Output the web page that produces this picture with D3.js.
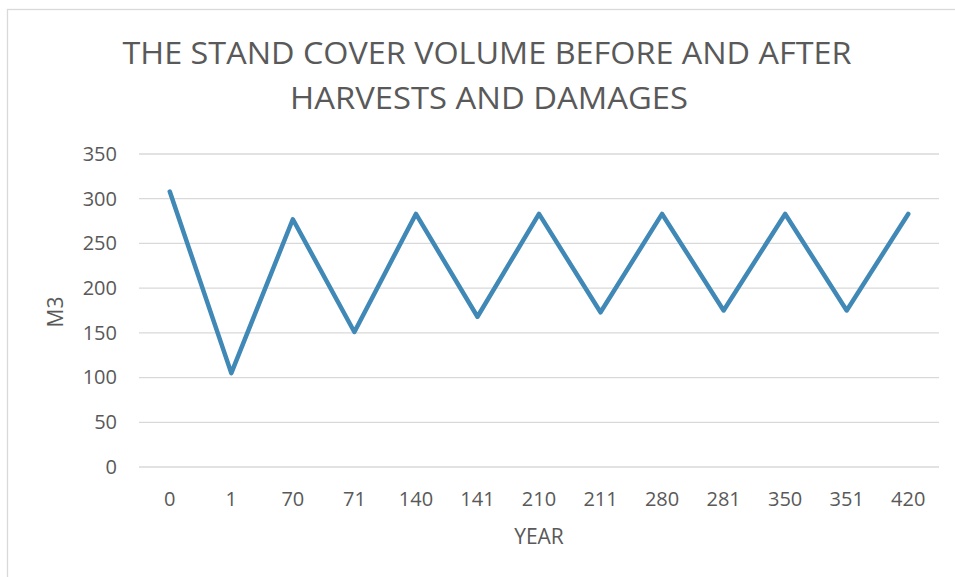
<!DOCTYPE html>
<html lang="en">
<head>
<meta charset="UTF-8"/>
<title>Stand cover volume</title>
<script src="https://d3js.org/d3.v7.min.js"></script>
<style>
    body { margin: 0; background: #fff; }
    text { font-family: "Open Sans", sans-serif; fill: #595959; }
    .grid line { stroke: #d9d9d9; stroke-width: 1.3; }
    .line { fill: none; stroke: #4088b6; stroke-width: 4.5; stroke-linejoin: round; stroke-linecap: round; }
</style>
</head>
<body>
<div id="chart"></div>
<script>
    // chart data
    var years = ["0", "1", "70", "71", "140", "141", "210", "211", "280", "281", "350", "351", "420"];
    var volume = [308, 105, 277, 151, 283, 168, 283, 173, 283, 175, 283, 175, 283];
    var yTicks = [0, 50, 100, 150, 200, 250, 300, 350];
    var titleLines = ["THE STAND COVER VOLUME BEFORE AND AFTER", "HARVESTS AND DAMAGES"];

    var w = 955, h = 577;
    var plotLeft = 139, plotRight = 939, plotTop = 154, plotBottom = 467;

    var svg = d3.select("#chart").append("svg")
        .attr("width", w)
        .attr("height", h);

    // chart border
    svg.append("rect")
        .attr("x", 7.5).attr("y", 9.5)
        .attr("width", w + 10).attr("height", h + 10)
        .attr("fill", "none")
        .attr("stroke", "#d9d9d9")
        .attr("stroke-width", 1.3);

    var xScale = d3.scaleBand()
        .domain(years)
        .range([plotLeft, plotRight]);
    var yScale = d3.scaleLinear()
        .domain([0, 350])
        .range([plotBottom, plotTop]);

    // gridlines
    svg.append("g")
        .attr("class", "grid")
        .selectAll("line")
        .data(yTicks)
        .join("line")
        .attr("x1", plotLeft).attr("x2", plotRight)
        .attr("y1", d => yScale(d)).attr("y2", d => yScale(d));

    // y axis labels
    let yAxis = d3.axisLeft(yScale).tickValues(yTicks).tickSize(0).tickPadding(22);
    let gy = svg.append("g")
        .attr("transform", `translate(${plotLeft}, 0)`)
        .call(yAxis);
    gy.select(".domain").remove();
    gy.selectAll("text").style("font-size", "20px").attr("fill", "#595959");

    // x axis labels
    let xAxis = d3.axisBottom(xScale).tickSize(0).tickPadding(0);
    let gx = svg.append("g")
        .attr("transform", `translate(0, ${plotBottom})`)
        .call(xAxis);
    gx.select(".domain").remove();
    gx.selectAll("text")
        .style("font-size", "20px")
        .attr("fill", "#595959")
        .attr("dy", null)
        .attr("y", 39);

    // line
    let line = d3.line()
        .x((d, i) => xScale(years[i]) + xScale.bandwidth() / 2)
        .y(d => yScale(d));
    svg.append("path")
        .datum(volume)
        .attr("class", "line")
        .attr("d", line);

    // title
    svg.append("text")
        .attr("x", 487).attr("y", 64)
        .attr("text-anchor", "middle")
        .style("font-size", "31.5px")
        .attr("textLength", 729)
        .attr("lengthAdjust", "spacingAndGlyphs")
        .text(titleLines[0]);
    svg.append("text")
        .attr("x", 489).attr("y", 109)
        .attr("text-anchor", "middle")
        .style("font-size", "31.5px")
        .attr("textLength", 398)
        .attr("lengthAdjust", "spacingAndGlyphs")
        .text(titleLines[1]);

    // axis titles
    svg.append("text")
        .attr("x", 539).attr("y", 544)
        .attr("text-anchor", "middle")
        .style("font-size", "21px")
        .text("YEAR");
    svg.append("text")
        .attr("transform", "translate(63, 312) rotate(-90)")
        .attr("text-anchor", "middle")
        .style("font-size", "21px")
        .text("M3");
</script>
</body>
</html>
